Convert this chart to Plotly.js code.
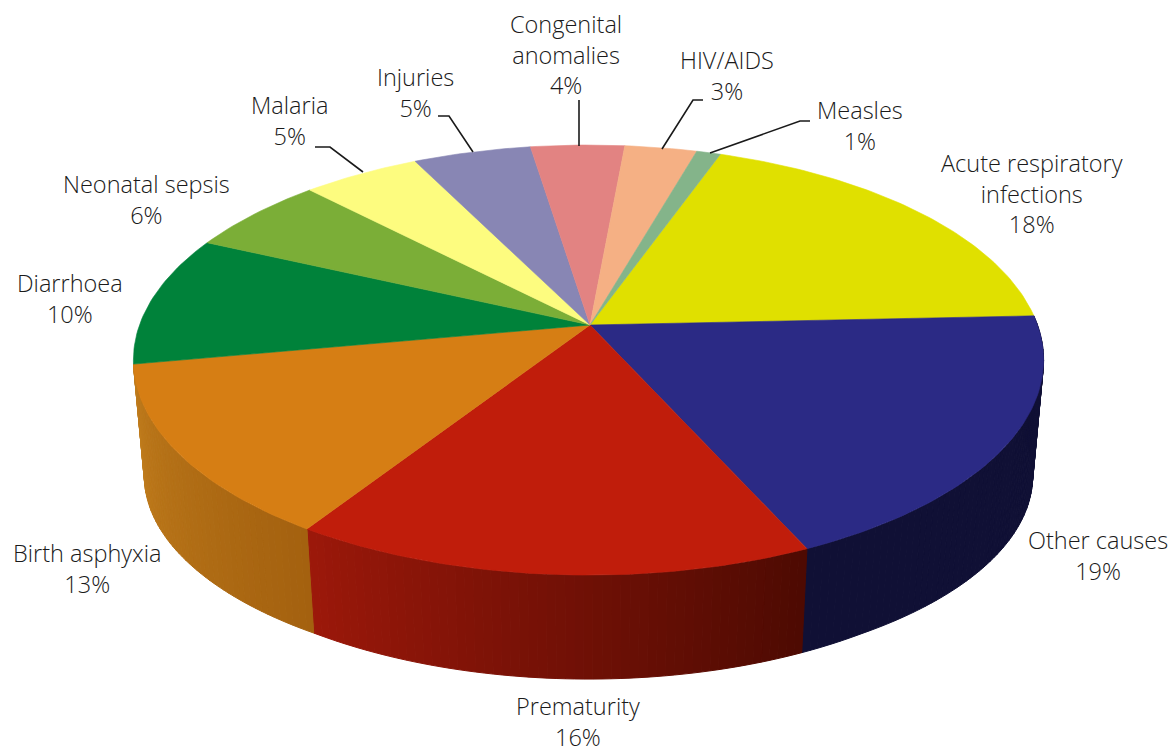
<!DOCTYPE html>
<html><head><meta charset="utf-8">
<script src="https://cdn.plot.ly/plotly-3.0.1.min.js"></script>
<style>html,body{margin:0;padding:0;background:#fff}#c{width:1172px;height:747px}</style>
</head><body><div id="c"></div>
<script>
// ---- chart data, clockwise from Acute respiratory infections ----
const categories = ["Acute respiratory<br>infections","Other causes","Prematurity","Birth asphyxia","Diarrhoea","Neonatal sepsis","Malaria","Injuries","Congenital<br>anomalies","HIV/AIDS","Measles"];
const values = [18,19,16,13,10,6,5,5,4,3,1];                         // printed labels
const sliceShares = [18.8,18.9,15.9,13,9.8,5.9,4.9,4.9,3.9,3,1];     // shares
const colours = ["#e0e000","#2b2a85","#c01d0b","#d67e14","#00823a","#7bae37","#fdfc7f","#8886b4","#e28382","#f5b084","#84b48a"];
const wallLeftColours = {1:"#101035",2:"#9c180a",3:"#c07c1c"};
const wallRightColours = {1:"#101035",2:"#4d0a02",3:"#a4610f"};

// ---- geometry of the tilted disc ----
const startDeg = 19.8, apexX = 590, cx = 588.5, cy = 325, A = 449, B = 209.3, K = 0.163;
const wallFrom = 86, wallTo = 261;
function topPt(t){const r=t*Math.PI/180,w=1+K*Math.cos(r);return [cx+A*Math.sin(r)/w, cy-B*Math.cos(r)/w];}
function bottomPt(t){const p=topPt(t);return [p[0]+(cx-p[0])*0.024, p[1]+104+Math.max(0,530-p[1])*0.07];}
function hex(c){return [1,3,5].map(i=>parseInt(c.substr(i,2),16));}
function mix(a,b,f){const x=hex(a),y=hex(b);return "rgb("+x.map((v,i)=>Math.round(v+(y[i]-v)*f)).join(",")+")";}

const traces = [];
const total = sliceShares.reduce((a,b)=>a+b,0);
let acc = startDeg;
const spans = sliceShares.map(v=>{const s=acc,e=acc+v/total*360;acc=e;return [s,e];});

// side wall, drawn first so the top covers it
spans.forEach((sp,i)=>{
  if(!(i in wallLeftColours)) return;
  const s=Math.max(sp[0],wallFrom), e=Math.min(sp[1],wallTo);
  for(let t=s;t<e-1e-6;t+=1){
    const n=Math.min(t+1,e), f=(t+0.5-sp[0])/(sp[1]-sp[0]);
    const a=topPt(t),b=topPt(n),c=bottomPt(n),d=bottomPt(t);
    const col=mix(wallRightColours[i],wallLeftColours[i],f);
    traces.push({type:"scatter",mode:"lines",x:[a[0],b[0],c[0],d[0],a[0]],y:[a[1],b[1],c[1],d[1],a[1]],
      fill:"toself",fillcolor:col,line:{color:col,width:1},hoverinfo:"skip",showlegend:false});
  }
});

// top face
spans.forEach((sp,i)=>{
  const xs=[apexX],ys=[cy];
  for(let t=sp[0];;t+=1){const q=topPt(Math.min(t,sp[1]));xs.push(q[0]);ys.push(q[1]);if(t>=sp[1])break;}
  xs.push(apexX);ys.push(cy);
  traces.push({type:"scatter",mode:"lines",x:xs,y:ys,fill:"toself",fillcolor:colours[i],
    line:{color:colours[i],width:0.6},name:categories[i],hoverinfo:"skip",showlegend:false});
});

// leader lines
const leaders = {
  Malaria:[[315,147],[330,147],[363,172]],
  Injuries:[[438,116],[449,116],[473,152]],
  Congenital:[[579,100],[579,146]],
  HIV:[[703,100],[693,100],[662,149]],
  Measles:[[810,121],[800,121],[710,153]]
};
Object.keys(leaders).forEach(k=>traces.push({type:"scatter",mode:"lines",x:leaders[k].map(p=>p[0]),y:leaders[k].map(p=>p[1]),
  line:{color:"#1a1a1a",width:1.6},hoverinfo:"skip",showlegend:false}));

// labels
const labelX = [1032,1098,578,87,70,146,289,415,566,727,860];
const labelY = [193,555,721,568,298,199,120,92,54,75,125];
const annotations = categories.map((c,i)=>({x:labelX[i],y:labelY[i],xref:"x",yref:"y",text:c+"<br>"+values[i]+"%",
  showarrow:false,xanchor:"center",yanchor:"middle",align:"center"}));

const layout = {width:1172,height:747,margin:{l:0,r:0,t:0,b:0},paper_bgcolor:"#fff",plot_bgcolor:"#fff",showlegend:false,
  font:{family:"'Open Sans', sans-serif",size:23.5,color:"#1a1a1a",weight:300},
  xaxis:{range:[0,1172],visible:false,fixedrange:true},
  yaxis:{range:[747,0],visible:false,fixedrange:true},
  annotations:annotations};
Plotly.newPlot("c",traces,layout,{displayModeBar:false,staticPlot:true});
</script></body></html>
